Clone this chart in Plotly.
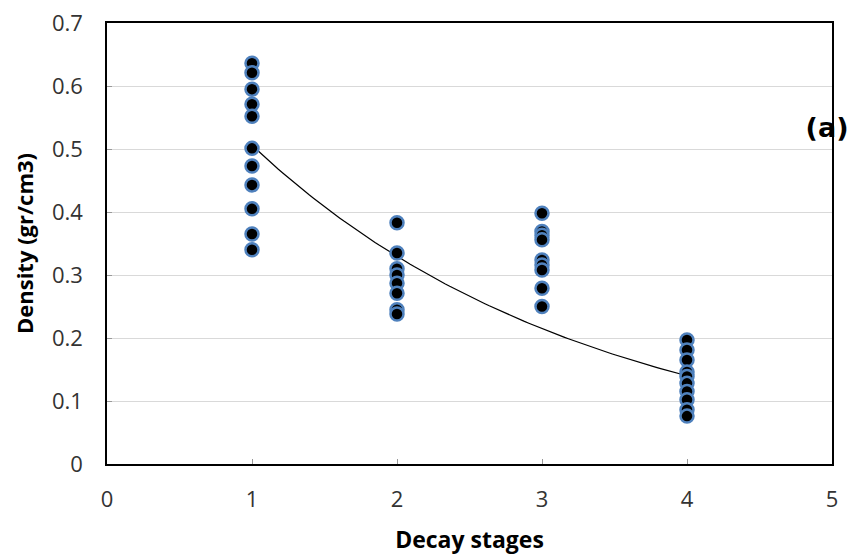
import numpy as np
import plotly.graph_objects as go

stage1 = [0.636, 0.621, 0.595, 0.571, 0.552, 0.501, 0.473, 0.443, 0.405, 0.365, 0.340]
stage2 = [0.383, 0.335, 0.310, 0.300, 0.287, 0.271, 0.245, 0.238]
stage3 = [0.398, 0.369, 0.363, 0.356, 0.324, 0.316, 0.308, 0.279, 0.250]
stage4 = [0.197, 0.181, 0.165, 0.146, 0.139, 0.128, 0.115, 0.102, 0.086, 0.076]
stages = [1, 2, 3, 4]

# exponential trendline y = a*exp(b*x), parameters
trend_a = 0.776
trend_b = -0.428

# panel label position (drawn under the plot border, like the original)
label_text = "<b>(a)</b>"
label_x = 4.966
label_y = 0.529

xs, ys = [], []
for s, vals in zip(stages, [stage1, stage2, stage3, stage4]):
    xs += [s] * len(vals)
    ys += vals

tx = np.linspace(1, 4, 100)
ty = trend_a * np.exp(trend_b * tx)

fig = go.Figure()
fig.add_trace(go.Scatter(x=tx, y=ty, mode="lines",
                         line=dict(color="black", width=1.2), showlegend=False))
fig.add_trace(go.Scatter(x=xs, y=ys, mode="markers",
                         marker=dict(size=13, color="black",
                                     line=dict(color="#4F81BD", width=2.5)),
                         showlegend=False))
fig.add_trace(go.Scatter(x=[label_x], y=[label_y], mode="text",
                         text=[label_text], textposition="middle center",
                         textfont=dict(size=27, family="DejaVu Sans", color="black"),
                         cliponaxis=False, showlegend=False, hoverinfo="skip"))

fig.update_layout(
    width=856, height=555,
    margin=dict(l=107, r=24, t=23, b=91),
    paper_bgcolor="white", plot_bgcolor="white",
    font=dict(family="Open Sans", color="black"),
    xaxis=dict(range=[0, 5], tickvals=[0, 1, 2, 3, 4, 5], showgrid=False,
               automargin=False,
               zeroline=False, showline=True, linecolor="black", linewidth=1.5,
               mirror=True, ticks="inside", ticklen=5, tickcolor="#999999",
               tickfont=dict(size=22, family="Open Sans", color="#333333"),
               ticklabelstandoff=15,
               title=dict(text="<b>Decay stages</b>", standoff=24,
                          font=dict(size=23, family="Open Sans"))),
    yaxis=dict(range=[0, 0.7], tickvals=[0, 0.1, 0.2, 0.3, 0.4, 0.5, 0.6, 0.7],
               ticktext=["0", "0.1", "0.2", "0.3", "0.4", "0.5", "0.6", "0.7"],
               automargin=False,
               showgrid=True, gridcolor="#d9d9d9", gridwidth=1,
               zeroline=False, showline=True, linecolor="black", linewidth=1.5,
               mirror=True, ticks="inside", ticklen=5, tickcolor="#999999",
               tickfont=dict(size=22, family="Open Sans", color="#333333"),
               ticklabelstandoff=18,
               title=dict(text="<b>Density (gr/cm3)</b>", standoff=12,
                          font=dict(size=22, family="Open Sans"))),
)

fig.write_html("out.html")
